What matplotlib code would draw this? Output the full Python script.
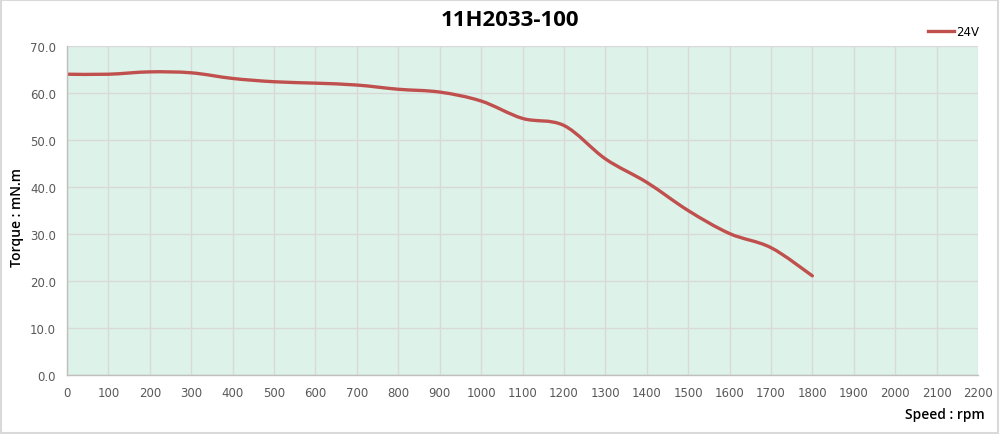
import matplotlib
matplotlib.use("Agg")
import matplotlib.pyplot as plt
from matplotlib.path import Path
from matplotlib.patches import PathPatch, Rectangle
from matplotlib.lines import Line2D
import numpy as np

title = "11H2033-100"
series_name = "24V"
speed_rpm = [0, 100, 200, 300, 400, 500, 600, 700, 800, 900, 1000, 1100, 1200, 1300, 1400, 1500, 1600, 1700, 1800]
torque_mNm = [64.0, 64.0, 64.5, 64.3, 63.1, 62.4, 62.1, 61.7, 60.8, 60.2, 58.3, 54.6, 53.1, 46.0, 41.0, 35.0, 30.1, 27.1, 21.1]
x_ticks = list(range(0, 2201, 100))
y_ticks = [0, 10, 20, 30, 40, 50, 60, 70]

LINE_COLOR = "#C0504D"
BG = "#DDF2E9"
GRID = "#D9D9D9"
TICK_COLOR = "#595959"

fig = plt.figure(figsize=(10, 4.35), dpi=100)
fig.patches.append(Rectangle((0.001, 0.002), 0.997, 0.995, transform=fig.transFigure,
                             fill=False, edgecolor="#D9D9D9", linewidth=1.5))
ax = fig.add_axes([0.067, 0.1356, 0.911, 0.7563])
ax.set_facecolor(BG)
ax.set_xlim(0, 2200)
ax.set_ylim(0, 70)
ax.set_xticks(x_ticks)
ax.set_yticks(y_ticks)
ax.set_yticklabels([f"{v:.1f}" for v in y_ticks])
ax.grid(True, color=GRID, linewidth=1.0)
ax.set_axisbelow(True)
for s in ["top", "right"]:
    ax.spines[s].set_visible(False)
for s in ["left", "bottom"]:
    ax.spines[s].set_color("#BFBFBF")
    ax.spines[s].set_linewidth(1.0)
ax.tick_params(axis="both", length=0, colors=TICK_COLOR, labelsize=8.5, pad=8)

# smooth (Excel-like) curve via cubic Bezier through data points
x = np.asarray(speed_rpm, float)
y = np.asarray(torque_mNm, float)
pts = np.column_stack([x, y])
verts = [pts[0]]
codes = [Path.MOVETO]
n = len(pts)
for i in range(n - 1):
    p0 = pts[i - 1] if i > 0 else pts[i]
    p1 = pts[i]
    p2 = pts[i + 1]
    p3 = pts[i + 2] if i + 2 < n else pts[i + 1]
    c1 = p1 + (p2 - p0) / 6.0
    c2 = p2 - (p3 - p1) / 6.0
    verts += [c1, c2, p2]
    codes += [Path.CURVE4] * 3
patch = PathPatch(Path(verts, codes), facecolor="none", edgecolor=LINE_COLOR,
                  linewidth=2.4, capstyle="round", joinstyle="round")
ax.add_patch(patch)

fig.text(0.51, 0.953, title, ha="center", va="center", fontsize=16, fontweight="bold",
         family=["Open Sans", "DejaVu Sans"])
fig.text(0.017, 0.5, "Torque : mN.m", rotation=90, ha="center", va="center", fontsize=10,
         fontweight="semibold", family=["Open Sans", "DejaVu Sans"])
fig.text(0.985, 0.047, "Speed : rpm", ha="right", va="center", fontsize=10,
         fontweight="semibold", family=["Open Sans", "DejaVu Sans"])

leg_handle = Line2D([], [], color=LINE_COLOR, linewidth=2.4)
fig.legend([leg_handle], [series_name], loc="center right", bbox_to_anchor=(0.99, 0.925),
           frameon=False, fontsize=8.5, handlelength=2.2, handletextpad=0.2)

fig.savefig("out.png", dpi=100, facecolor="white")
